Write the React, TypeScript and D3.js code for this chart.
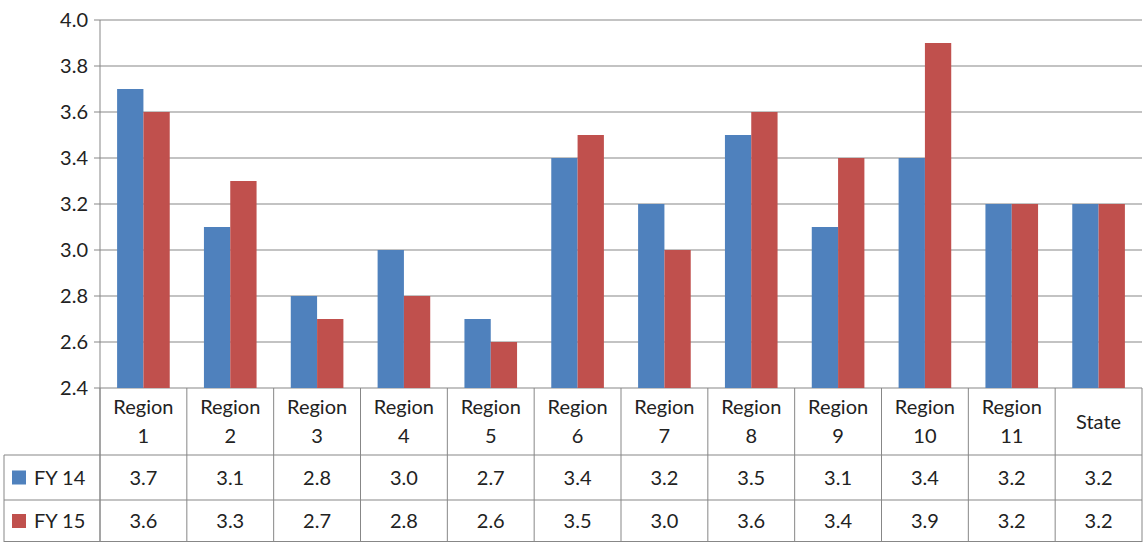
import { useRef, useEffect } from 'react';
import * as d3 from 'd3';

const categories = ['Region\n1', 'Region\n2', 'Region\n3', 'Region\n4', 'Region\n5', 'Region\n6', 'Region\n7', 'Region\n8', 'Region\n9', 'Region\n10', 'Region\n11', 'State'];
const fy14 = [3.7, 3.1, 2.8, 3.0, 2.7, 3.4, 3.2, 3.5, 3.1, 3.4, 3.2, 3.2];
const fy15 = [3.6, 3.3, 2.7, 2.8, 2.6, 3.5, 3.0, 3.6, 3.4, 3.9, 3.2, 3.2];
const yTicks = [2.4, 2.6, 2.8, 3.0, 3.2, 3.4, 3.6, 3.8, 4.0];

const W = 1143, H = 542;
const series = [
  { name: 'FY 14', values: fy14, color: '#4F81BD' },
  { name: 'FY 15', values: fy15, color: '#C0504D' },
];

export default function App() {
  const ref = useRef<SVGSVGElement>(null);

  useEffect(() => {
    if (!ref.current) return;
    const svg = d3.select(ref.current);
    svg.selectAll('*').remove();

    const left = 100, right = 1142, top = 20, bottom = 388;
    const row1 = 455, row2 = 500, row3 = 542;
    const font = 'Lato, "Open Sans", sans-serif';
    const grid = '#878787';

    const x = d3.scaleBand<number>().domain(d3.range(categories.length)).range([left, right]);
    const y = d3.scaleLinear().domain([2.4, 4.0]).range([bottom, top]);
    const inner = d3.scaleBand<number>().domain([0, 1]).range([0, x.bandwidth()]).paddingOuter(0.65).paddingInner(0);

    // gridlines
    svg.append('g').selectAll('line').data(yTicks).join('line')
      .attr('x1', left - 6).attr('x2', right).attr('y1', (d) => y(d)).attr('y2', (d) => y(d))
      .attr('stroke', grid).attr('stroke-width', 1);

    svg.append('g').selectAll('text').data(yTicks).join('text')
      .attr('x', left - 12).attr('y', (d) => y(d)).attr('dy', '0.35em')
      .attr('text-anchor', 'end').attr('font-family', font).attr('font-size', 20).attr('fill', '#222')
      .text((d) => d.toFixed(1));

    // bars
    series.forEach((s, si) => {
      svg.append('g').selectAll('rect').data(s.values).join('rect')
        .attr('x', (_, i) => (x(i) as number) + (inner(si) as number))
        .attr('width', inner.bandwidth())
        .attr('y', (d) => y(d)).attr('height', (d) => bottom - y(d))
        .attr('fill', s.color);
    });

    // axis line
    svg.append('line').attr('x1', left).attr('x2', left).attr('y1', top).attr('y2', row3)
      .attr('stroke', grid);

    // data table lines
    const tbl = svg.append('g').attr('stroke', grid).attr('stroke-width', 1);
    d3.range(categories.length + 1).forEach((i) => {
      const xx = i < categories.length ? (x(i) as number) : right;
      tbl.append('line').attr('x1', xx).attr('x2', xx).attr('y1', bottom).attr('y2', row3);
    });
    [row1, row2].forEach((yy) => tbl.append('line').attr('x1', 4).attr('x2', right).attr('y1', yy).attr('y2', yy));
    tbl.append('line').attr('x1', 4).attr('x2', 4).attr('y1', row1).attr('y2', row3);
    tbl.append('line').attr('x1', 4).attr('x2', right).attr('y1', row3 - 0.5).attr('y2', row3 - 0.5);

    // category labels
    categories.forEach((c, i) => {
      const lines = c.split('\n');
      const cx = (x(i) as number) + x.bandwidth() / 2;
      const mid = (bottom + row1) / 2;
      const t = svg.append('text').attr('text-anchor', 'middle').attr('font-family', font)
        .attr('font-size', 20).attr('fill', '#222');
      lines.forEach((l, li) => {
        t.append('tspan').attr('x', cx)
          .attr('y', mid + (li - (lines.length - 1) / 2) * 29).attr('dy', '0.35em').text(l);
      });
    });

    // series rows
    series.forEach((s, si) => {
      const y0 = si === 0 ? row1 : row2;
      const y1 = si === 0 ? row2 : row3;
      const cy = (y0 + y1) / 2;
      svg.append('rect').attr('x', 12).attr('y', cy - 7).attr('width', 14).attr('height', 14).attr('fill', s.color);
      svg.append('text').attr('x', 34).attr('y', cy).attr('dy', '0.35em')
        .attr('font-family', font).attr('font-size', 20).attr('fill', '#222').text(s.name);
      svg.append('g').selectAll('text').data(s.values).join('text')
        .attr('x', (_, i) => (x(i) as number) + x.bandwidth() / 2).attr('y', cy).attr('dy', '0.35em')
        .attr('text-anchor', 'middle').attr('font-family', font).attr('font-size', 20).attr('fill', '#222')
        .text((d) => d.toFixed(1));
    });
  }, []);

  return <svg ref={ref} width={W} height={H} style={{ position: 'absolute', left: 0, top: 0, background: '#fff' }} />;
}
